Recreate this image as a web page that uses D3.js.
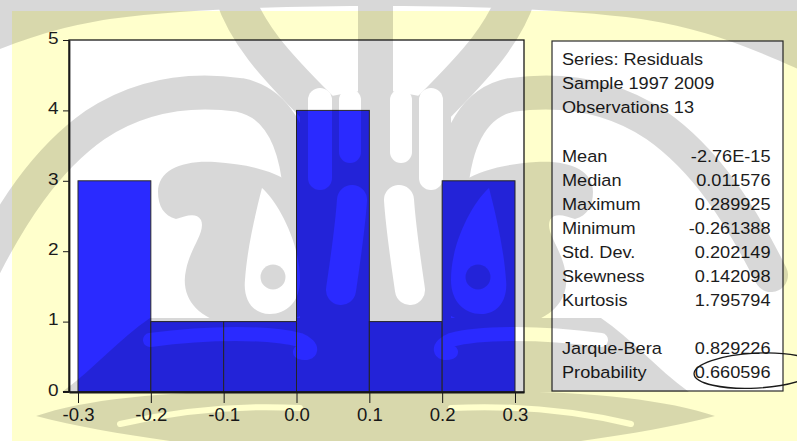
<!DOCTYPE html>
<html>
<head>
<meta charset="utf-8">
<script src="https://cdn.jsdelivr.net/npm/d3@7"></script>
<style>
  html, body { margin: 0; padding: 0; background: #ffffff; }
  svg { display: block; }
  text { font-family: "Liberation Sans", Arial, sans-serif; fill: #1c1c1c; }
</style>
</head>
<body>
<svg id="chart" width="797" height="441"></svg>
<script>
// Histogram of regression residuals, 1997-2009
const binEdges = [-0.3, -0.2, -0.1, 0.0, 0.1, 0.2, 0.3];
const binCounts = [3, 1, 1, 4, 1, 3];
const yTicks = [0, 1, 2, 3, 4, 5];
const xTicks = [-0.3, -0.2, -0.1, 0.0, 0.1, 0.2, 0.3];
const xTickLabels = ["-0.3", "-0.2", "-0.1", "0.0", "0.1", "0.2", "0.3"];

const headerLines = ["Series: Residuals", "Sample 1997 2009", "Observations 13"];
const statNames = ["Mean", "Median", "Maximum", "Minimum", "Std. Dev.", "Skewness", "Kurtosis"];
const statValues = ["-2.76E-15", "0.011576", "0.289925", "-0.261388", "0.202149", "0.142098", "1.795794"];
const testNames = ["Jarque-Bera", "Probability"];
const testValues = ["0.829226", "0.660596"];

const W = 797, H = 441;
const svg = d3.select("#chart");
const defs = svg.append("defs");

// page background
svg.append("rect").attr("x", 12).attr("y", 11).attr("width", W - 12).attr("height", H - 11).attr("fill", "#ffffcc");

// plot frame
const plot = { left: 69, right: 524, top: 40, bottom: 392 };
const x = d3.scaleLinear().domain([-0.31236, 0.31236]).range([plot.left, plot.right]);
const y = d3.scaleLinear().domain([0, 5]).range([plot.bottom, plot.top]);

svg.append("rect")
  .attr("x", plot.left).attr("y", plot.top)
  .attr("width", plot.right - plot.left).attr("height", plot.bottom - plot.top)
  .attr("fill", "#ffffff");

const bins = binCounts.map((c, i) => ({ x0: binEdges[i], x1: binEdges[i + 1], count: c }));
svg.append("g").selectAll("rect").data(bins).join("rect")
  .attr("x", d => x(d.x0))
  .attr("y", d => y(d.count))
  .attr("width", d => x(d.x1) - x(d.x0))
  .attr("height", d => y(0) - y(d.count))
  .attr("fill", "#2a2aff")
  .attr("stroke", "#2b2b2b")
  .attr("stroke-width", 1);

svg.append("rect")
  .attr("x", plot.left).attr("y", plot.top)
  .attr("width", plot.right - plot.left).attr("height", plot.bottom - plot.top)
  .attr("fill", "none").attr("stroke", "#1a1a1a").attr("stroke-width", 1.3);

// axes
const ySx = 1.15;
const yAxis = svg.append("g")
  .attr("transform", `translate(${plot.left},0)`)
  .call(d3.axisLeft(y).tickValues(yTicks).tickSize(6).tickSizeOuter(0).tickPadding(4)
    .tickFormat(d3.format("d")));
yAxis.select(".domain").attr("stroke", "#1a1a1a").attr("stroke-width", 1.8);
yAxis.selectAll(".tick line").attr("stroke", "#1a1a1a");
yAxis.selectAll(".tick text")
  .attr("font-size", 16.5).attr("dy", "0.2em")
  .attr("x", -10.5 / ySx).attr("transform", `scale(${ySx},1)`)
  .attr("font-family", "Liberation Sans, Arial, sans-serif").attr("fill", "#1c1c1c");

const xAxis = svg.append("g")
  .attr("transform", `translate(0,${plot.bottom})`)
  .call(d3.axisBottom(x).tickValues(xTicks).tickSize(11).tickSizeOuter(0).tickPadding(6)
    .tickFormat((d, i) => xTickLabels[i]));
xAxis.select(".domain").attr("stroke", "#1a1a1a").attr("stroke-width", 2);
xAxis.selectAll(".tick line").attr("stroke", "#1a1a1a");
xAxis.selectAll(".tick text")
  .attr("font-size", 17.5)
  .attr("font-family", "Liberation Sans, Arial, sans-serif").attr("fill", "#1c1c1c")
  .attr("transform", "scale(1.06,1)");
// axis line runs on under the zero tick
svg.append("line").attr("x1", plot.left - 6).attr("x2", plot.left)
  .attr("y1", plot.bottom).attr("y2", plot.bottom)
  .attr("stroke", "#1a1a1a").attr("stroke-width", 2);

// statistics panel
const box = { left: 552, right: 783, top: 41, bottom: 391 };
svg.append("rect")
  .attr("x", box.left).attr("y", box.top)
  .attr("width", box.right - box.left).attr("height", box.bottom - box.top)
  .attr("fill", "#ffffff").attr("stroke", "#2b2b2b").attr("stroke-width", 1.2);

const rowH = 24.1, firstRow = 59.3, fs = 16.5, sx = 1.1;
const rows = [];
headerLines.forEach((t, i) => rows.push({ row: i, label: t, value: null }));
statNames.forEach((t, i) => rows.push({ row: 4 + i, label: t, value: statValues[i] }));
testNames.forEach((t, i) => rows.push({ row: 12 + i, label: t, value: testValues[i] }));

const panel = svg.append("g");
rows.forEach(r => {
  const cy = firstRow + r.row * rowH + 0.355 * fs;
  panel.append("text")
    .attr("transform", `translate(${box.left + 10},${cy}) scale(${sx},1)`)
    .attr("font-size", fs).text(r.label);
  if (r.value !== null) {
    panel.append("text")
      .attr("transform", `translate(${box.right - 12.5},${cy}) scale(${sx},1)`)
      .attr("font-size", fs).attr("text-anchor", "end").text(r.value);
  }
});

// hand-drawn oval around the probability value
const probCy = firstRow + 13 * rowH;
svg.append("ellipse")
  .attr("cx", 756).attr("cy", probCy - 2).attr("rx", 62).attr("ry", 17.5)
  .attr("transform", `rotate(-3,756,${probCy - 2})`)
  .attr("fill", "none").attr("stroke", "#1a1a1a").attr("stroke-width", 1.3);

// faint emblem printed over the slide (mirror-symmetric about x = 375.5)
const holes = defs.append("mask").attr("id", "emblem-holes")
  .attr("maskUnits", "userSpaceOnUse").attr("x", 0).attr("y", 0).attr("width", W).attr("height", H);
holes.append("rect").attr("width", W).attr("height", H).attr("fill", "#fff");

const emblem = svg.append("g").attr("opacity", 0.15).attr("pointer-events", "none");
const masked = emblem.append("g").attr("mask", "url(#emblem-holes)");
const free = emblem.append("g");
const mirror = "translate(751,0) scale(-1,1)";

function band(g, d, w) {
  return g.append("path").attr("d", d).attr("fill", "none").attr("stroke", "#000")
    .attr("stroke-width", w).attr("stroke-linecap", "round");
}

function emblemHalf(g) {
  // top crescent
  g.append("path").attr("d", "M-60,-10 H380 V6 C300,6 190,8 110,19 C60,27 20,38 -60,75 Z");
  // outer sweep from the edge over the eye into the centre
  band(g, "M-20,275 C10,215 45,160 95,125 C140,95 190,88 240,95 C275,102 295,135 300,190", 34);
  // upper sweep descending into the centre column
  band(g, "M230,-20 C240,30 280,70 320,110 C345,135 355,160 358,190", 38);
  // centre column
  g.append("path").attr("d", "M300,105 C330,95 360,90 376,90 V330 H300 Z");
  band(g, "M376,-10 V110", 34);
  // eye swirl body
  g.append("path").attr("d",
    "M158,192 C158,170 182,160 215,162 C262,165 302,178 312,212 L316,300 C306,323 262,330 228,324 " +
    "C196,318 180,296 186,270 C190,248 206,232 201,220 C196,212 186,216 176,219 C164,216 158,206 158,192 Z");
  // lower body across the bars
  g.append("path").attr("d", "M150,318 H376 V392 H62 C95,368 120,338 150,318 Z");
  // wing below the axis
  g.append("path").attr("d", "M36,416 C90,397 190,389 290,392 H376 V441 H170 C120,434 75,426 36,416 Z");
}
function eyeDot(g) {
  g.append("circle").attr("cx", 273).attr("cy", 277).attr("r", 12.5);
}
function emblemHoles(g) {
  // light tendrils hanging into the centre
  band(g, "M320,100 V178", 24);
  band(g, "M350,100 V152", 22);
  band(g, "M352,200 C350,230 345,262 341,290", 30);
  // eye socket
  g.append("path").attr("d",
    "M262,188 C276,200 300,240 300,280 C300,302 286,314 270,314 C253,314 243,300 245,280 C247,250 255,215 262,188 Z");
  // light streak through the lower body
  band(g, "M150,340 C210,332 270,332 300,340 C315,346 312,356 300,352", 14);
  // light streaks in the wing
  band(g, "M120,424 C180,410 240,405 300,408", 6);
}
emblemHalf(masked.append("g"));
emblemHalf(masked.append("g").attr("transform", mirror));
eyeDot(free.append("g"));
eyeDot(free.append("g").attr("transform", mirror));
emblemHoles(holes.append("g"));
emblemHoles(holes.append("g").attr("transform", mirror));
</script>
</body>
</html>
